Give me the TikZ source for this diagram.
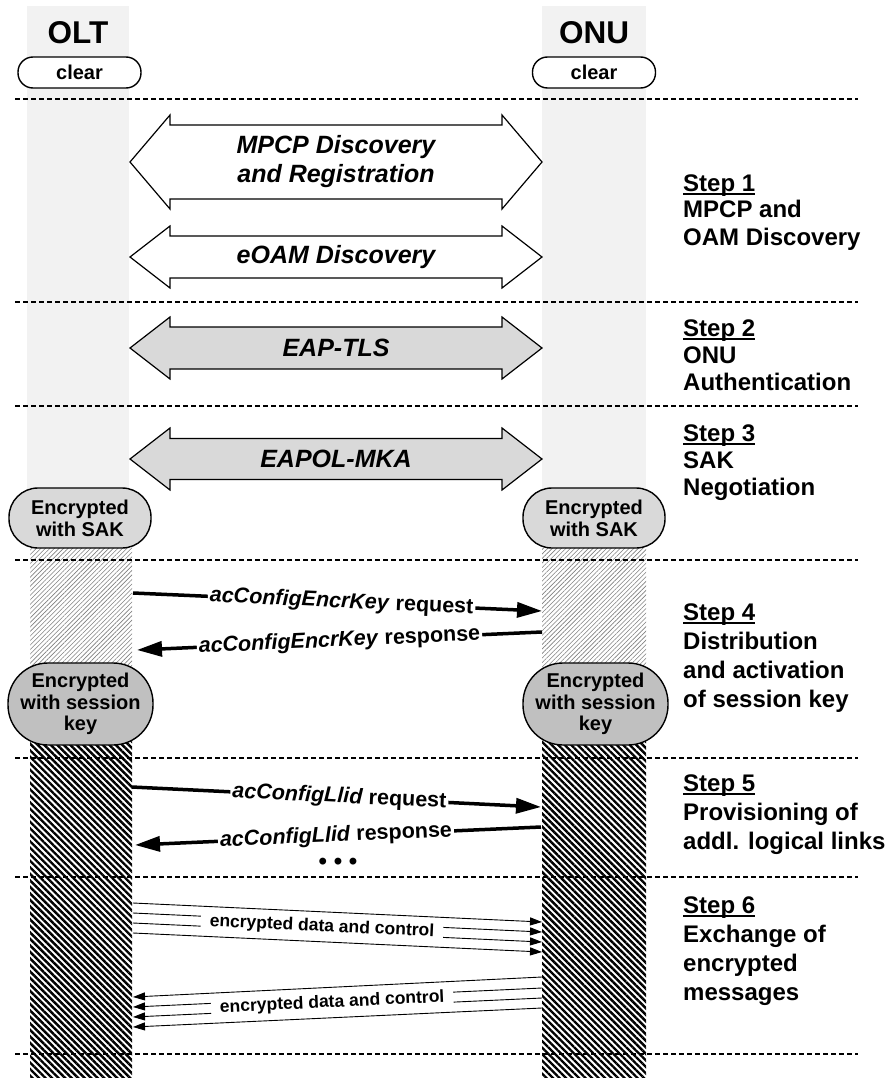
\documentclass[tikz,border=0pt]{standalone}
\usepackage{fontspec}
\setmainfont{Liberation Sans}
\usetikzlibrary{arrows.meta,patterns.meta,calc}
\definecolor{colgray}{HTML}{F2F2F2}
\definecolor{sakgray}{HTML}{D9D9D9}
\definecolor{sesgray}{HTML}{C0C0C0}
\definecolor{arrgray}{HTML}{D9D9D9}
\newcommand\stepul[1]{\setbox0=\hbox{#1}\rlap{\rule[-3.5pt]{\wd0}{2pt}}\box0}
\newcommand\dblarrow[5]{%
 \draw[blockarrow, fill=#4] (130,#1) -- (170,#1-#3) -- (170,#1-#2) -- (502,#1-#2) -- (502,#1-#3) -- (542,#1) -- (502,#1+#3) -- (502,#1+#2) -- (170,#1+#2) -- (170,#1+#3) -- cycle;
 \node[bigtext] (#5) at (336,#1) {};}
\tikzset{
  sepline/.style={line width=1.8pt, dash pattern=on 5pt off 3pt},
  blockarrow/.style={draw=black, line width=1.2pt, line join=miter},
  titletext/.style={font=\fontsize{31.5}{34}\selectfont\bfseries, inner sep=0},
  clearbox/.style={draw, line width=1.4pt, rounded corners=15pt, minimum width=123pt, minimum height=31pt, fill=white, font=\fontsize{20}{22}\selectfont\bfseries, inner sep=0},
  sakbox/.style={draw, line width=1.4pt, rounded corners=29pt, minimum width=142pt, minimum height=60pt, fill=sakgray, align=center, font=\fontsize{20}{22}\selectfont\bfseries, inner sep=0},
  sesbox/.style={draw, line width=1.4pt, rounded corners=40pt, minimum width=145pt, minimum height=82pt, fill=sesgray, align=center, font=\fontsize{20}{21.5}\selectfont\bfseries, inner sep=0},
  msg/.style={line width=3.5pt, -{Triangle[length=25pt,width=15pt]}},
  msglabel/.style={sloped, fill=white, inner xsep=2pt, inner ysep=0pt, font=\fontsize{21.5}{24}\selectfont\bfseries},
  datamsg/.style={line width=0.9pt, -{Triangle[length=12pt,width=8pt]}},
  datalabel/.style={sloped, fill=white, inner xsep=9pt, inner ysep=1pt, font=\fontsize{17.5}{20}\selectfont\bfseries},
  steptext/.style={anchor=base west, inner sep=0, font=\fontsize{24}{29}\selectfont\bfseries},
  bigtext/.style={font=\fontsize{25}{29}\selectfont\bfseries\itshape, align=center, inner sep=0},
}
\begin{document}
\begin{tikzpicture}[x=1pt,y=-1pt]
\useasboundingbox (0,0) rectangle (895,1078);
\fill[white] (0,0) rectangle (895,1078);
% columns
\fill[colgray] (27,6) rectangle (129,530);
\fill[colgray] (542,6) rectangle (646,530);
\fill[pattern={Lines[angle=45,distance=3.2pt,line width=0.6pt]}, pattern color=black!50] (30,540) rectangle (132,690);
\fill[pattern={Lines[angle=45,distance=3.2pt,line width=0.6pt]}, pattern color=black!50] (542,540) rectangle (646,690);
\fill[pattern={Lines[angle=-45,distance=4.6pt,line width=2.4pt]}, pattern color=black] (30,730) rectangle (132,1078);
\fill[pattern={Lines[angle=-45,distance=4.6pt,line width=2.4pt]}, pattern color=black] (542,730) rectangle (646,1078);
% separators
\foreach \yy in {99,302,406,560,758,877,1054} \draw[sepline] (15,\yy) -- (858,\yy);
% headers
\node[titletext] (olt) at (78,33) {OLT};
\node[titletext] (onu) at (594,33) {ONU};
\node[clearbox] (oltclear) at (79.5,72.5) {clear};
\node[clearbox] (onuclear) at (594,72.5) {clear};
% block arrows
\dblarrow{162}{37}{47}{white}{mpcp}
\node[bigtext] at (mpcp) {MPCP Discovery\\and Registration};
\dblarrow{257}{21}{31}{white}{eoam}
\node[bigtext] at (eoam) {eOAM Discovery};
\dblarrow{348}{21}{31}{arrgray}{eaptls}
\node[bigtext] at (eaptls) {EAP-TLS};
\dblarrow{459}{20.5}{31}{arrgray}{eapol}
\node[bigtext] at (eapol) {EAPOL-MKA};
% state boxes
\node[sakbox] (oltsak) at (80,518) {Encrypted\\with SAK};
\node[sakbox] (onusak) at (594,518) {Encrypted\\with SAK};
\node[sesbox] (oltses) at (80.5,704) {Encrypted\\with session\\key};
\node[sesbox] (onuses) at (595.5,704) {Encrypted\\with session\\key};
% step 4 messages
\coordinate (k1s) at (133,593); \coordinate (k1e) at (542,611);
\coordinate (k2s) at (542,632); \coordinate (k2e) at (137,650);
\draw[msg] (k1s) -- node[msglabel,pos=0.51] {\textit{acConfigEncrKey} request} (k1e);
\draw[msg] (k2s) -- node[msglabel,pos=0.50] {\textit{acConfigEncrKey} response} (k2e);
% step 5 messages
\coordinate (l1s) at (132,787); \coordinate (l1e) at (541,807);
\coordinate (l2s) at (541,827); \coordinate (l2e) at (135,845);
\draw[msg] (l1s) -- node[msglabel,pos=0.507] {\textit{acConfigLlid} request} (l1e);
\draw[msg] (l2s) -- node[msglabel,pos=0.505] {\textit{acConfigLlid} response} (l2e);
\node[font=\fontsize{24}{28}\selectfont\bfseries, inner sep=0] (dots) at (338,864) {• • •};
% step 6 data
\foreach \i/\ys/\ye in {1/903/922,2/913/932,3/923/942,4/933/952}{
  \coordinate (a\i s) at (133,\ys); \coordinate (a\i e) at (542,\ye);
}
\foreach \i/\ys/\ye in {1/977/997,2/988/1007,3/998/1017,4/1008/1027}{
  \coordinate (b\i s) at (542,\ys); \coordinate (b\i e) at (133,\ye);
}
\foreach \i in {1,2,3,4}{
  \draw[datamsg] (a\i s) -- (a\i e);
  \draw[datamsg] (b\i s) -- (b\i e);
}
\path ($(a2s)!0.5!(a3s)$) -- node[datalabel,pos=0.462] (dl1) {encrypted data and control} ($(a2e)!0.5!(a3e)$);
\path ($(b2s)!0.5!(b3s)$) -- node[datalabel,pos=0.513] (dl2) {encrypted data and control} ($(b2e)!0.5!(b3e)$);
% step texts
\node[steptext] (s1a) at (683,191) {\stepul{Step 1}};
\node[steptext] (s1b) at (683,218) {MPCP and};
\node[steptext] (s1c) at (683,245) {OAM Discovery};
\node[steptext] (s2a) at (683,336) {\stepul{Step 2}};
\node[steptext] (s2b) at (683,363) {ONU};
\node[steptext] (s2c) at (683,390) {Authentication};
\node[steptext] (s3a) at (683,441) {\stepul{Step 3}};
\node[steptext] (s3b) at (683,468) {SAK};
\node[steptext] (s3c) at (683,495) {Negotiation};
\node[steptext] (s4a) at (683,620) {\stepul{Step 4}};
\node[steptext] (s4b) at (683,649) {Distribution};
\node[steptext] (s4c) at (683,678) {and activation};
\node[steptext] (s4d) at (683,707) {of session key};
\node[steptext] (s5a) at (683,791) {\stepul{Step 5}};
\node[steptext] (s5b) at (683,820) {Provisioning of};
\node[steptext] (s5c) at (683,849) {addl. logical links};
\node[steptext] (s6a) at (683,913) {\stepul{Step 6}};
\node[steptext] (s6b) at (683,942) {Exchange of};
\node[steptext] (s6c) at (683,971) {encrypted};
\node[steptext] (s6d) at (683,1000) {messages};
\end{tikzpicture}
\end{document}
